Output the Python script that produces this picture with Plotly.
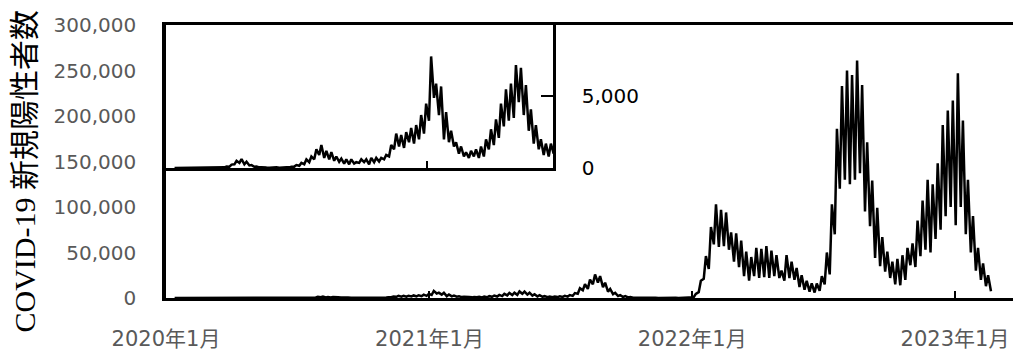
import pandas as pd
import plotly.graph_objects as go

# Daily new COVID-19 positive cases in Japan, sampled twice a week:
# Mondays (weekly low) and Thursdays (weekly high).
first_monday = "2020-01-13"

monday_cases = [
    0, 0, 1, 0, 1, 5, 10, 15, 25, 20, 40, 90, 250, 350, 250, 170, 80, 40, 20, 20,
    30, 15, 30, 40, 90, 150, 250, 400, 600, 900, 700, 600, 500, 430, 300, 250, 300, 350, 400, 250,
    400, 450, 600, 800, 1300, 1500, 1400, 1800, 1700, 2000, 2400,
    3300, 4900, 3700, 2000, 1800, 1500, 1000, 800, 700, 800, 700, 800, 1300, 1600, 2100, 2900,
    3300, 3500, 4600, 3700, 2600, 1700, 1300, 900, 800, 1000, 1200, 1500, 2300, 4700, 8400,
    10000, 15000, 16800, 12000, 7000, 4200, 2200, 1100, 600, 380, 230, 150, 90, 100, 70, 80,
    80, 70, 110, 170, 230,
    780, 6400, 21000, 32000, 59000, 56000, 57000, 53000, 40000, 34000, 24000, 19000, 24000,
    22000, 23000, 22000, 24000, 22000, 19000, 22000, 20000, 12000, 9000, 7000, 6000, 8000,
    15000, 26000, 70000, 120000, 130000, 125000, 130000, 137000, 95000, 79000, 44000, 35000,
    29000, 22000, 15000, 14000, 20000, 36000, 34000, 46000, 53000, 50000, 65000, 75000, 90000,
    100000,
    80000, 100000, 70000, 50000, 30000, 20000, 13000, 7500,
]

thursday_cases = [
    1, 1, 3, 2, 3, 10, 20, 30, 50, 40, 100, 230, 500, 620, 430, 200, 100, 55, 30, 35,
    40, 40, 50, 90, 200, 350, 600, 800, 1300, 1600, 1200, 1100, 800, 650, 600, 600, 400, 600, 600, 700,
    700, 700, 900, 1600, 2400, 2300, 2500, 2800, 3000, 3700, 4500,
    7800, 5900, 5700, 3900, 2600, 1800, 1500, 1100, 1200, 1300, 1500, 2000, 2700, 3400, 4500, 5500,
    5900, 7200, 7000, 5800, 4100, 3000, 2000, 1700, 1700, 1900, 2300, 3200, 5400, 10700, 15200,
    20300, 25900, 24000, 16800, 10000, 5700, 3200, 2000, 1100, 600, 400, 280, 220, 200, 160, 120,
    130, 160, 180, 260, 500,
    4500, 18900, 46000, 78000, 103000, 97000, 94000, 72000, 71000, 63000, 51000, 45000, 55000,
    54000, 57000, 52000, 47000, 30000, 47000, 40000, 33000, 25000, 19000, 16000, 16000, 24000,
    50000, 103000, 186000, 233000, 250000, 245000, 261000, 234000, 171000, 129000, 99000, 67000,
    51000, 40000, 43000, 47000, 55000, 60000, 85000, 107000, 130000, 125000, 148000, 190000, 206000,
    217000,
    247000, 195000, 130000, 90000, 55000, 38000, 25000,
]

year_ticks = ["2020-01-01", "2021-01-01", "2022-01-01", "2023-01-01"]
year_tick_text = ["2020年1月", "2021年1月", "2022年1月", "2023年1月"]
main_y_ticks = [0, 50000, 100000, 150000, 200000, 250000, 300000]
inset_y_ticks = [0, 5000]
inset_y_text = ["0", "5,000"]
y_title = "COVID-19 新規陽性者数"

# Build the time series by interleaving the Monday and Thursday samples
mondays = pd.date_range(first_monday, periods=len(monday_cases), freq="7D")
dates, cases = [], []
for i, day in enumerate(mondays):
    dates.append(day)
    cases.append(monday_cases[i])
    if i < len(thursday_cases):
        dates.append(day + pd.Timedelta(days=3))
        cases.append(thursday_cases[i])

y_tick_font = dict(family="DejaVu Sans, Noto Sans CJK JP", size=20, color="#595959")
x_tick_font = dict(family="DejaVu Sans, Noto Sans CJK JP", size=21, color="#595959")
line_style = dict(color="black", width=2.5)

fig = go.Figure()
fig.add_trace(go.Scatter(x=dates, y=cases, mode="lines", line=line_style,
                         xaxis="x", yaxis="y", showlegend=False))
fig.add_trace(go.Scatter(x=dates, y=cases, mode="lines", line=line_style,
                         xaxis="x2", yaxis="y2", showlegend=False))

fig.update_layout(
    width=1013, height=351,
    margin=dict(l=166, r=0, t=25, b=49),
    paper_bgcolor="white", plot_bgcolor="white",
    xaxis=dict(
        domain=[0, 1], anchor="y",
        range=["2020-01-01", "2023-03-22 14:00"],
        showline=True, linewidth=3, linecolor="black", mirror=True,
        ticks="inside", ticklen=7, tickwidth=2, tickcolor="black",
        tickvals=year_ticks, ticktext=year_tick_text,
        tickfont=x_tick_font, ticklabelstandoff=20,
        showgrid=False, zeroline=False,
    ),
    yaxis=dict(
        domain=[0, 1], anchor="x",
        range=[0, 300000],
        showline=True, linewidth=3.5, linecolor="black",
        ticks="", tickvals=main_y_ticks, tickformat=",",
        tickfont=y_tick_font, ticklabelstandoff=22,
        showgrid=False, zeroline=False,
    ),
    xaxis2=dict(
        domain=[0, 0.4569], anchor="y2",
        range=["2020-01-01", "2021-06-27"],
        showline=True, linewidth=3, linecolor="black",
        ticks="inside", ticklen=7, tickwidth=2, tickcolor="black",
        tickvals=["2021-01-01"], showticklabels=False,
        showgrid=False, zeroline=False,
    ),
    yaxis2=dict(
        domain=[0.4765, 1], anchor="x2", side="right",
        range=[0, 10000],
        showline=True, linewidth=2.5, linecolor="black",
        ticks="inside", ticklen=12, tickwidth=2, tickcolor="black",
        tickvals=inset_y_ticks, ticktext=inset_y_text,
        tickfont=dict(family="DejaVu Sans", size=20, color="black"),
        ticklabelstandoff=22,
        showgrid=False, zeroline=False,
    ),
    annotations=[dict(
        text=y_title, textangle=-90,
        xref="paper", yref="paper", x=-0.1665, y=0.467,
        xanchor="center", yanchor="middle", showarrow=False,
        font=dict(family="Liberation Serif, Noto Sans CJK JP", size=30, color="black"),
    )],
)

fig.write_html("out.html")
